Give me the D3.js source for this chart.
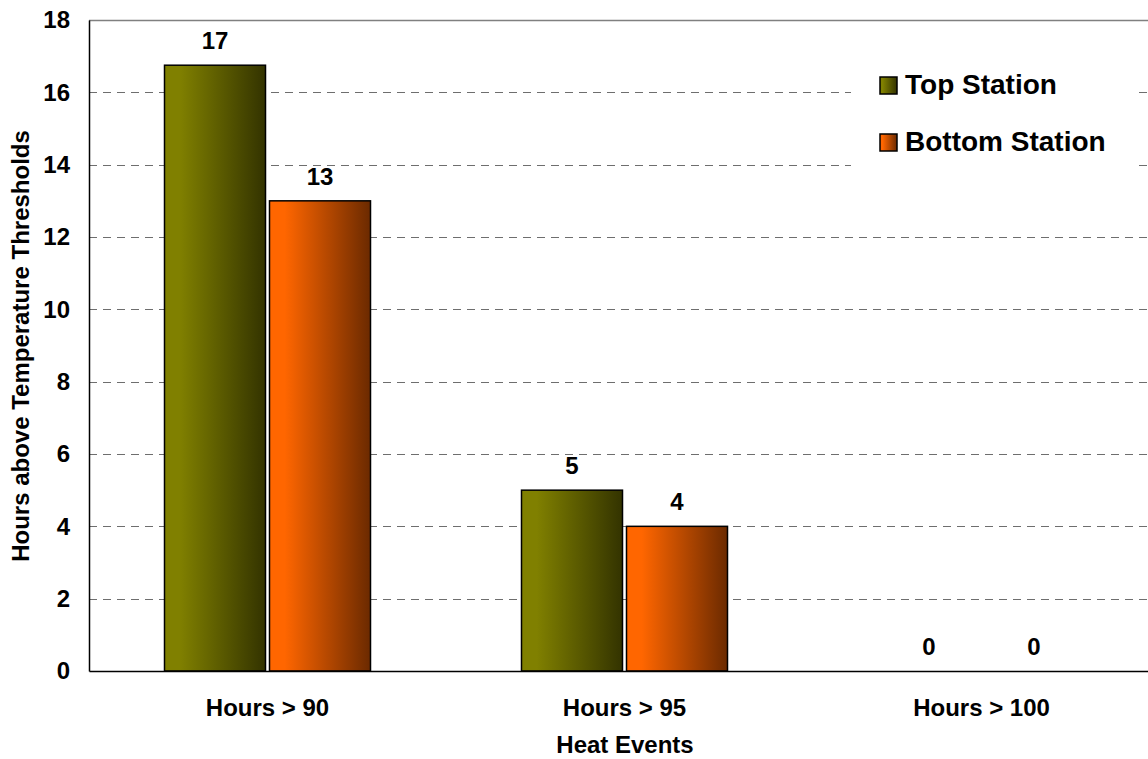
<!DOCTYPE html>
<html>
<head>
<meta charset="utf-8">
<script src="https://cdn.jsdelivr.net/npm/d3@7"></script>
<style>
  html, body { margin: 0; padding: 0; background: #fff; overflow: hidden; }
  svg { display: block; font-family: Arial, "Liberation Sans", sans-serif; }
</style>
</head>
<body>
<svg id="chart" width="1148" height="759"></svg>
<script>
// Heat event hours per station
const categories = ["Hours > 90", "Hours > 95", "Hours > 100"];
const seriesNames = ["Top Station", "Bottom Station"];
const topStation = [16.75, 5, 0];
const bottomStation = [13, 4, 0];
const yTicks = [0, 2, 4, 6, 8, 10, 12, 14, 16, 18];

const svg = d3.select("#chart");
const margin = { left: 89, top: 20, bottom: 671, right: 1160 };
const FONT = "Arial, 'Liberation Sans', sans-serif";

const x = d3.scaleBand().domain(categories).range([margin.left, margin.right]);
const y = d3.scaleLinear().domain([0, 18]).range([margin.bottom, margin.top]);

// Gradients for bar fills
const defs = svg.append("defs");
function grad(id, c0, c1) {
  const g = defs.append("linearGradient").attr("id", id)
    .attr("x1", "0%").attr("x2", "100%").attr("y1", "0%").attr("y2", "0%");
  g.append("stop").attr("offset", "0%").attr("stop-color", c0);
  g.append("stop").attr("offset", "15%").attr("stop-color", c0);
  g.append("stop").attr("offset", "100%").attr("stop-color", c1);
}
grad("gTop", "#808000", "#333300");
grad("gBottom", "#FF6600", "#6B2A00");
const fills = ["url(#gTop)", "url(#gBottom)"];

// Top border of plot area
svg.append("line")
  .attr("x1", margin.left).attr("x2", 1148)
  .attr("y1", margin.top + 0.5).attr("y2", margin.top + 0.5)
  .attr("stroke", "#808080").attr("stroke-width", 1.5);

// Dashed gridlines
svg.append("g").selectAll("line")
  .data(yTicks.filter(d => d > 0 && d < 18))
  .join("line")
  .attr("x1", margin.left).attr("x2", 1148)
  .attr("y1", d => Math.round(y(d)) + 0.5).attr("y2", d => Math.round(y(d)) + 0.5)
  .attr("stroke", "#6e6e6e").attr("stroke-width", 1)
  .attr("stroke-dasharray", "8,6");

// Legend background masks gridlines
svg.append("rect")
  .attr("x", 851).attr("y", 50).attr("width", 283).attr("height", 128)
  .attr("fill", "#fff");

// Bars
const barW = 101, gap = 4;
const data = categories.map((c, i) => ({ c, vals: [topStation[i], bottomStation[i]] }));
const groups = svg.append("g").selectAll("g").data(data).join("g");
groups.each(function(d) {
  const cx = x(d.c) + x.bandwidth() / 2;
  const g = d3.select(this);
  d.vals.forEach((v, s) => {
    const bx = s === 0 ? cx - gap / 2 - barW : cx + gap / 2;
    if (v > 0) {
      g.append("rect")
        .attr("x", bx).attr("y", y(v))
        .attr("width", barW).attr("height", y(0) - y(v))
        .attr("fill", fills[s])
        .attr("stroke", "#000").attr("stroke-width", 1.5);
    }
    g.append("text")
      .attr("x", bx + barW / 2).attr("y", y(v) - 16)
      .attr("text-anchor", "middle")
      .attr("font-size", 24).attr("font-weight", "bold")
      .text(d3.format(".0f")(v));
  });
});

// Y axis
const yAxis = svg.append("g")
  .attr("transform", `translate(${margin.left},0)`)
  .call(d3.axisLeft(y).tickValues(yTicks).tickSize(0).tickPadding(19).tickFormat(d3.format("d")));
yAxis.select(".domain").attr("stroke", "#000").attr("stroke-width", 1.5);
yAxis.selectAll("text")
  .attr("font-size", 24).attr("font-weight", "bold")
  .attr("font-family", FONT).attr("fill", "#000");

// X axis
const xAxis = svg.append("g")
  .attr("transform", `translate(0,${margin.bottom})`)
  .call(d3.axisBottom(x).tickSize(0).tickPadding(28));
xAxis.select(".domain").attr("stroke", "#000").attr("stroke-width", 1.5);
xAxis.selectAll("text")
  .attr("font-size", 24).attr("font-weight", "bold")
  .attr("font-family", FONT).attr("fill", "#000");

// Axis titles
svg.append("text")
  .attr("x", 625).attr("y", 753)
  .attr("text-anchor", "middle")
  .attr("font-size", 24).attr("font-weight", "bold")
  .text("Heat Events");

svg.append("text")
  .attr("transform", "translate(29,346) rotate(-90)")
  .attr("text-anchor", "middle")
  .attr("font-size", 24).attr("font-weight", "bold")
  .text("Hours above Temperature Thresholds");

// Legend
const legend = svg.append("g");
seriesNames.forEach((name, i) => {
  const baseY = 94 + i * 57;
  legend.append("rect")
    .attr("x", 880).attr("y", baseY - 17).attr("width", 17).attr("height", 17)
    .attr("fill", fills[i]).attr("stroke", "#000").attr("stroke-width", 1.5);
  legend.append("text")
    .attr("x", 905).attr("y", baseY)
    .attr("font-size", 28).attr("font-weight", "bold")
    .text(name);
});
</script>
</body>
</html>
